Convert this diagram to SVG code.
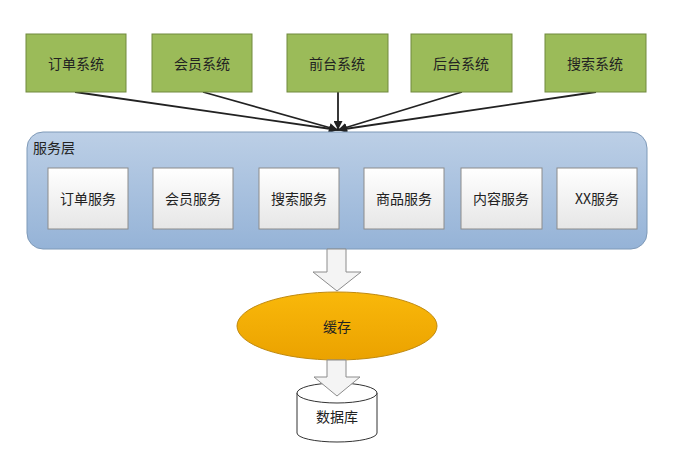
<svg xmlns="http://www.w3.org/2000/svg" width="690" height="470" viewBox="0 0 690 470">
<defs>
<linearGradient id="blue" x1="0" y1="0" x2="0" y2="1"><stop offset="0" stop-color="#bccfe6"/><stop offset="1" stop-color="#95b3d7"/></linearGradient>
<linearGradient id="white" x1="0" y1="0" x2="0" y2="1"><stop offset="0" stop-color="#ffffff"/><stop offset="1" stop-color="#e6e6e6"/></linearGradient>
<linearGradient id="orange" x1="0" y1="0" x2="0" y2="1"><stop offset="0" stop-color="#f9b80a"/><stop offset="1" stop-color="#eba200"/></linearGradient>
<marker id="ah" viewBox="0 0 10 10" refX="10" refY="5" markerWidth="5" markerHeight="5" orient="auto-start-reverse"><path d="M0,0 L10,5 L0,10 z" fill="#222"/></marker>
<style>
.g{fill:#9bbb59;stroke:#71893f;stroke-width:1}
.t{font-family:"Noto Sans CJK SC","Liberation Sans",sans-serif;font-size:14px;fill:#222;text-anchor:middle;dominant-baseline:central}
.s{fill:url(#white);stroke:#8c8c8c;stroke-width:1}
.c{stroke:#222;stroke-width:1.8;fill:none;marker-end:url(#ah)}
.w{fill:#f4f4f4;stroke:#8c8c8c;stroke-width:1}
</style>
</defs>
<g id="connectors">
<line class="c" x1="75" y1="92" x2="338" y2="130"/>
<line class="c" x1="203" y1="92" x2="338" y2="130"/>
<line class="c" x1="338" y1="92" x2="338" y2="130"/>
<line class="c" x1="462" y1="92" x2="338" y2="130"/>
<line class="c" x1="596" y1="92" x2="338" y2="130"/>
</g>
<g id="sys1"><rect class="g" x="26" y="34" width="100" height="58"/><text class="t" x="76" y="63">订单系统</text></g>
<g id="sys2"><rect class="g" x="152" y="34" width="100" height="58"/><text class="t" x="202" y="63">会员系统</text></g>
<g id="sys3"><rect class="g" x="287" y="34" width="101" height="58"/><text class="t" x="337" y="63">前台系统</text></g>
<g id="sys4"><rect class="g" x="411" y="34" width="101" height="58"/><text class="t" x="461" y="63">后台系统</text></g>
<g id="sys5"><rect class="g" x="545" y="34" width="101" height="58"/><text class="t" x="595" y="63">搜索系统</text></g>
<g id="service-layer">
<rect x="27" y="132" width="620" height="117" rx="16" fill="url(#blue)" stroke="#7f9ab8" stroke-width="1"/>
<text class="t" x="33" y="147" style="text-anchor:start">服务层</text>
</g>
<g id="svc1"><rect class="s" x="48" y="168" width="80" height="61"/><text class="t" x="88" y="198">订单服务</text></g>
<g id="svc2"><rect class="s" x="153" y="168" width="80" height="61"/><text class="t" x="193" y="198">会员服务</text></g>
<g id="svc3"><rect class="s" x="259" y="168" width="80" height="61"/><text class="t" x="299" y="198">搜索服务</text></g>
<g id="svc4"><rect class="s" x="364" y="168" width="80" height="61"/><text class="t" x="404" y="198">商品服务</text></g>
<g id="svc5"><rect class="s" x="461" y="168" width="81" height="61"/><text class="t" x="501" y="198">内容服务</text></g>
<g id="svc6"><rect class="s" x="557" y="168" width="80" height="61"/><text class="t" x="597" y="198">XX服务</text></g>
<g id="arrow1"><path class="w" d="M327,249 L346,249 L346,272 L361,272 L337,291 L313,272 L327,272 Z"/></g>
<g id="cache"><ellipse cx="337" cy="326" rx="100" ry="34" fill="url(#orange)" stroke="#c08a10" stroke-width="1"/><text class="t" x="337" y="326">缓存</text></g>
<g id="database">
<path d="M297,393 L297,433 A40,9 0 0 0 377,433 L377,393" fill="#fff" stroke="#333" stroke-width="1"/>
<ellipse cx="337" cy="393" rx="40" ry="10" fill="#fff" stroke="#333" stroke-width="1"/>
<text class="t" x="337" y="416">数据库</text>
</g>
<g id="arrow2"><path class="w" d="M327,360 L346,360 L346,377 L360,377 L337,396 L314,377 L327,377 Z"/></g>
</svg>
